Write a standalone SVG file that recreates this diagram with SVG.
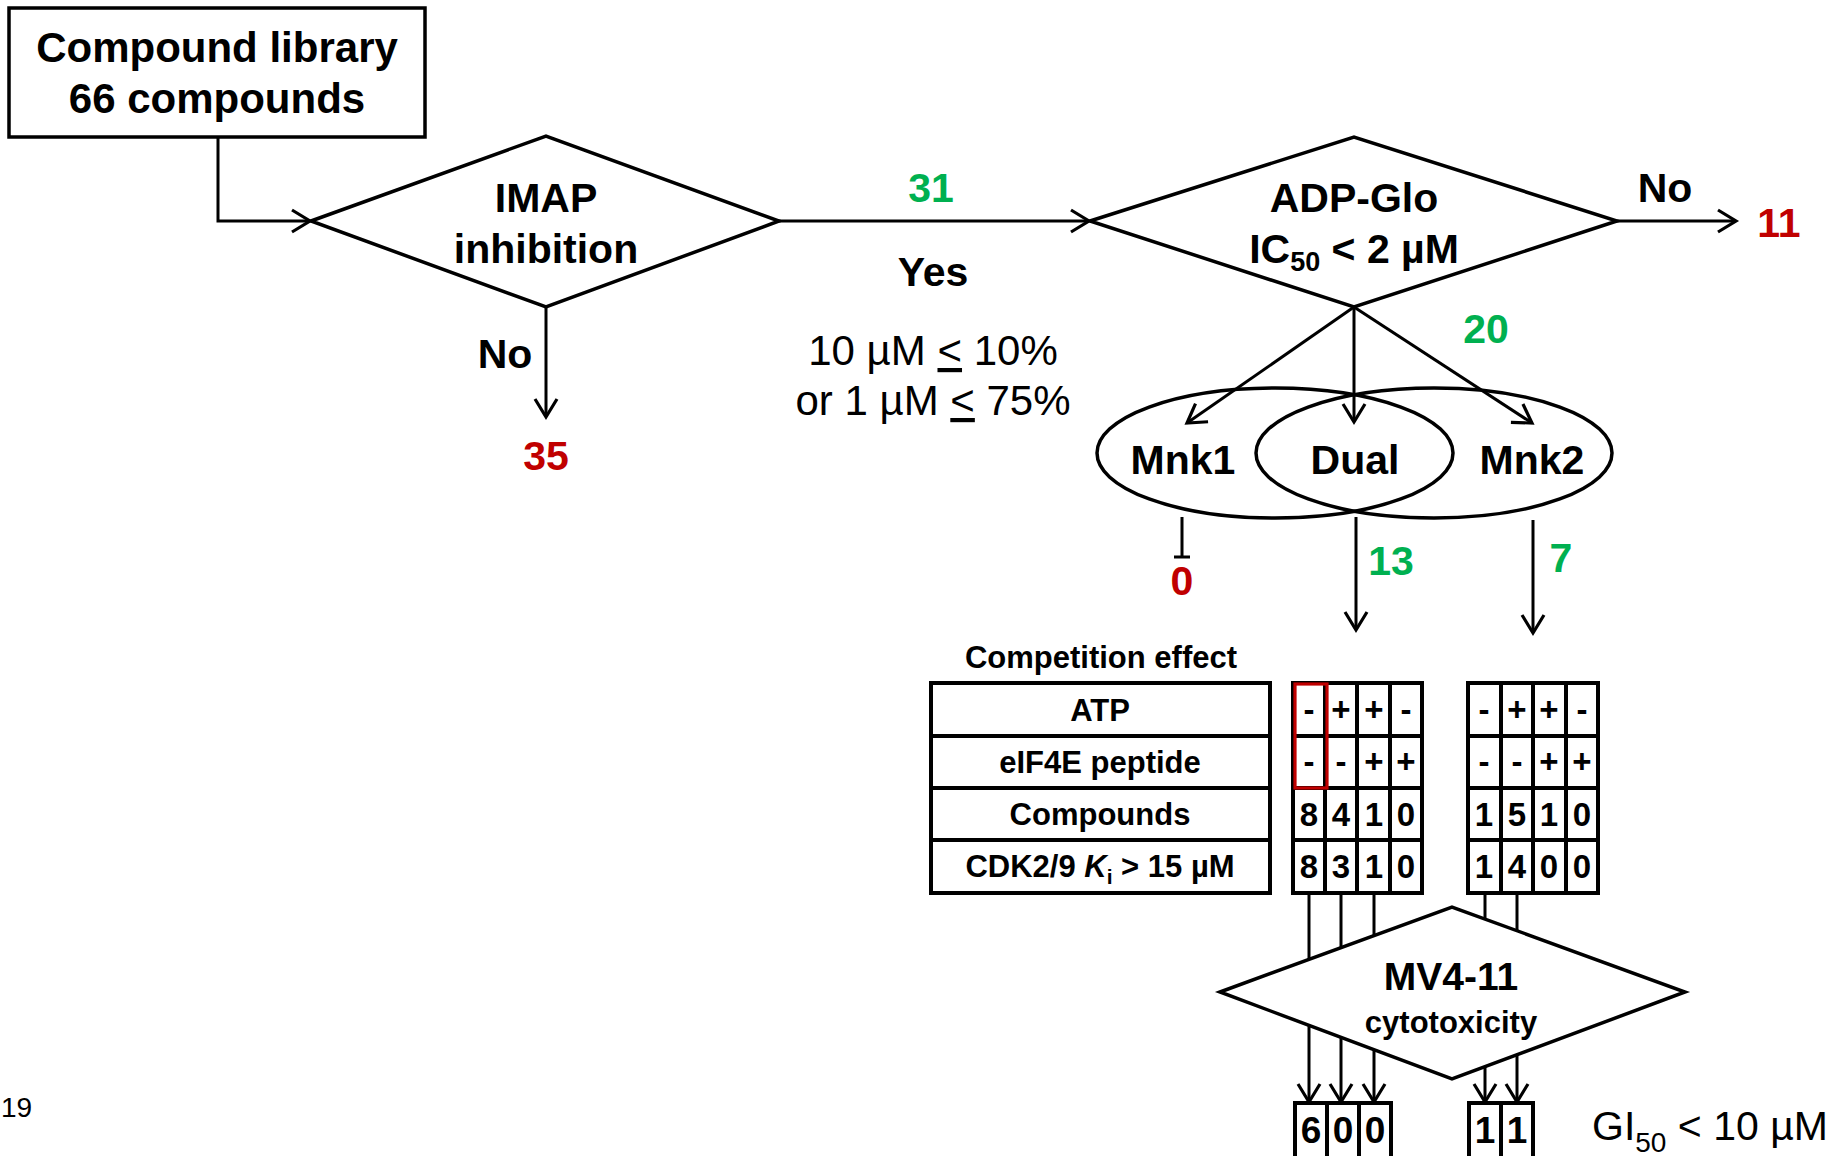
<svg xmlns="http://www.w3.org/2000/svg" width="1837" height="1156" viewBox="0 0 1837 1156">
  <defs>
    <marker id="arrow" markerUnits="userSpaceOnUse" viewBox="0 0 26 26" markerWidth="26" markerHeight="26" refX="21" refY="13" orient="auto">
      <path d="M3,2 L21,13 L3,24" fill="none" stroke="#000" stroke-width="3.2" stroke-linejoin="miter"/>
    </marker>
  </defs>
  <style>
    text { font-family: "Liberation Sans", Arial, sans-serif; fill: #000; }
    .b { font-weight: bold; }
    .t41 { font-size: 41px; }
    .t42 { font-size: 42px; }
    .t31 { font-size: 31px; }
    .t33 { font-size: 33px; }
    .t36 { font-size: 37px; }
    .c { text-anchor: middle; }
    .green { fill: #00b050; }
    .red { fill: #c00000; }
    .shape { fill: none; stroke: #000; stroke-width: 3.5; }
    .diamond { fill: #fff; stroke: #000; stroke-width: 3.5; stroke-linejoin: miter; }
    .cell { fill: none; stroke: #000; stroke-width: 4; }
    .link { fill: none; stroke: #000; stroke-width: 3; }
    .arrowed { marker-end: url(#arrow); }
  </style>
  <rect width="1837" height="1156" fill="#fff"/>

  <!-- connectors -->
  <g id="connectors">
    <path class="link arrowed" d="M218,137 V221 H310"/>
    <path class="link arrowed" d="M546,307 V417"/>
    <path class="link arrowed" d="M779,221 H1089"/>
    <path class="link arrowed" d="M1617,221 H1736"/>
    <path class="link arrowed" d="M1354,307 L1187,423"/>
    <path class="link arrowed" d="M1354,307 V422"/>
    <path class="link arrowed" d="M1354,307 L1532,423"/>
    <path class="link" d="M1182,517 V557 M1174,557 H1190"/>
    <path class="link arrowed" d="M1356,517 V630"/>
    <path class="link arrowed" d="M1533,520 V633"/>
    <!-- screening hits routed through the cytotoxicity assay -->
    <path class="link arrowed" d="M1309,893 V1102"/>
    <path class="link arrowed" d="M1341,893 V1102"/>
    <path class="link arrowed" d="M1374,893 V1102"/>
    <path class="link arrowed" d="M1485,893 V1102"/>
    <path class="link arrowed" d="M1517,893 V1102"/>
  </g>

  <!-- compound library -->
  <g id="library">
    <rect x="9" y="8" width="416" height="129" class="shape" stroke-width="3"/>
    <text x="217" y="62" class="b t42 c">Compound library</text>
    <text x="217" y="113" class="b t42 c">66 compounds</text>
  </g>

  <!-- IMAP decision -->
  <g id="imap">
    <polygon points="311,221 546,136 779,221 546,307" class="diamond"/>
    <text x="546" y="212" class="b t41 c">IMAP</text>
    <text x="546" y="263" class="b t41 c">inhibition</text>
  </g>
  <g id="imap-no">
    <text x="505" y="368" class="b t41 c">No</text>
    <text x="546" y="470" class="b t41 c red">35</text>
  </g>
  <g id="imap-yes">
    <text x="931" y="202" class="b t41 c green">31</text>
    <text x="933" y="286" class="b t41 c">Yes</text>
    <text x="933" y="365" class="t42 c">10 µM <tspan text-decoration="underline">&lt;</tspan> 10%</text>
    <text x="933" y="415" class="t42 c">or 1 µM <tspan text-decoration="underline">&lt;</tspan> 75%</text>
  </g>

  <!-- ADP-Glo decision -->
  <g id="adpglo">
    <polygon points="1090,221 1354,137 1617,221 1354,307" class="diamond"/>
    <text x="1354" y="212" class="b t41 c">ADP-Glo</text>
    <text x="1354" y="263" class="b t41 c">IC<tspan font-size="27" dy="8">50</tspan><tspan dy="-8"> &lt; 2 µM</tspan></text>
  </g>
  <g id="adpglo-no">
    <text x="1665" y="202" class="b t41 c">No</text>
    <text x="1779" y="237" class="b t41 c red">11</text>
  </g>
  <g id="adpglo-yes">
    <text x="1486" y="343" class="b t41 c green">20</text>
  </g>

  <!-- selectivity classes -->
  <g id="selectivity">
    <ellipse cx="1275" cy="453" rx="178" ry="65" class="shape"/>
    <ellipse cx="1434" cy="453" rx="178" ry="65" class="shape"/>
    <text x="1183" y="474" class="b t41 c">Mnk1</text>
    <text x="1355" y="474" class="b t41 c">Dual</text>
    <text x="1532" y="474" class="b t41 c">Mnk2</text>
  </g>
  <g id="counts">
    <text x="1182" y="595" class="b t41 c red">0</text>
    <text x="1391" y="575" class="b t41 c green">13</text>
    <text x="1561" y="572" class="b t41 c green">7</text>
  </g>

  <!-- competition table labels -->
  <g id="competition-labels">
    <text x="1101" y="668" class="b t31 c">Competition effect</text>
    <rect x="931" y="683" width="339" height="53" class="cell"/>
    <rect x="931" y="736" width="339" height="52" class="cell"/>
    <rect x="931" y="788" width="339" height="52" class="cell"/>
    <rect x="931" y="840" width="339" height="53" class="cell"/>
    <text x="1100" y="721" class="b t31 c">ATP</text>
    <text x="1100" y="773" class="b t31 c">eIF4E peptide</text>
    <text x="1100" y="825" class="b t31 c">Compounds</text>
    <text x="1100" y="877" class="b t31 c">CDK2/9 <tspan font-style="italic">K</tspan><tspan font-size="21" dy="7">i</tspan><tspan dy="-7"> &gt; 15 µM</tspan></text>
  </g>

  <!-- dual inhibitor columns -->
  <g id="dual-table">
    <path class="cell" d="M1293,683 H1422 V893 H1293 Z M1325,683 V893 M1357,683 V893 M1390,683 V893 M1293,736 H1422 M1293,788 H1422 M1293,840 H1422"/>
    <g class="b t33 c">
      <text x="1309" y="721">-</text><text x="1341" y="721">+</text><text x="1374" y="721">+</text><text x="1406" y="721">-</text>
      <text x="1309" y="773">-</text><text x="1341" y="773">-</text><text x="1374" y="773">+</text><text x="1406" y="773">+</text>
      <text x="1309" y="826">8</text><text x="1341" y="826">4</text><text x="1374" y="826">1</text><text x="1406" y="826">0</text>
      <text x="1309" y="878">8</text><text x="1341" y="878">3</text><text x="1374" y="878">1</text><text x="1406" y="878">0</text>
    </g>
    <rect x="1295" y="684" width="32" height="104" fill="none" stroke="#c00000" stroke-width="3.2"/>
  </g>

  <!-- Mnk2 inhibitor columns -->
  <g id="mnk2-table">
    <path class="cell" d="M1468,683 H1598 V893 H1468 Z M1501,683 V893 M1533,683 V893 M1566,683 V893 M1468,736 H1598 M1468,788 H1598 M1468,840 H1598"/>
    <g class="b t33 c">
      <text x="1484" y="721">-</text><text x="1517" y="721">+</text><text x="1549" y="721">+</text><text x="1582" y="721">-</text>
      <text x="1484" y="773">-</text><text x="1517" y="773">-</text><text x="1549" y="773">+</text><text x="1582" y="773">+</text>
      <text x="1484" y="826">1</text><text x="1517" y="826">5</text><text x="1549" y="826">1</text><text x="1582" y="826">0</text>
      <text x="1484" y="878">1</text><text x="1517" y="878">4</text><text x="1549" y="878">0</text><text x="1582" y="878">0</text>
    </g>
  </g>

  <!-- cellular assay -->
  <g id="mv411">
    <polygon points="1220,992 1452,907 1685,992 1452,1079" class="diamond"/>
    <text x="1451" y="990" class="b c" font-size="39">MV4-11</text>
    <text x="1451" y="1033" class="b t31 c">cytotoxicity</text>
  </g>

  <!-- cytotoxic hits -->
  <g id="dual-hits">
    <path class="cell" d="M1295,1170 V1103 H1391 V1170 M1327,1103 V1170 M1359,1103 V1170"/>
    <text x="1311" y="1143" class="b t36 c">6</text>
    <text x="1343" y="1143" class="b t36 c">0</text>
    <text x="1375" y="1143" class="b t36 c">0</text>
  </g>
  <g id="mnk2-hits">
    <path class="cell" d="M1469,1170 V1103 H1533 V1170 M1501,1103 V1170"/>
    <text x="1485" y="1143" class="b t36 c">1</text>
    <text x="1517" y="1143" class="b t36 c">1</text>
  </g>
  <g id="gi50">
    <text x="1592" y="1140" font-size="41">GI<tspan font-size="28" dy="12">50</tspan><tspan dy="-12"> &lt; 10 µM</tspan></text>
  </g>

  <text x="1" y="1117" font-size="28">19</text>
</svg>
